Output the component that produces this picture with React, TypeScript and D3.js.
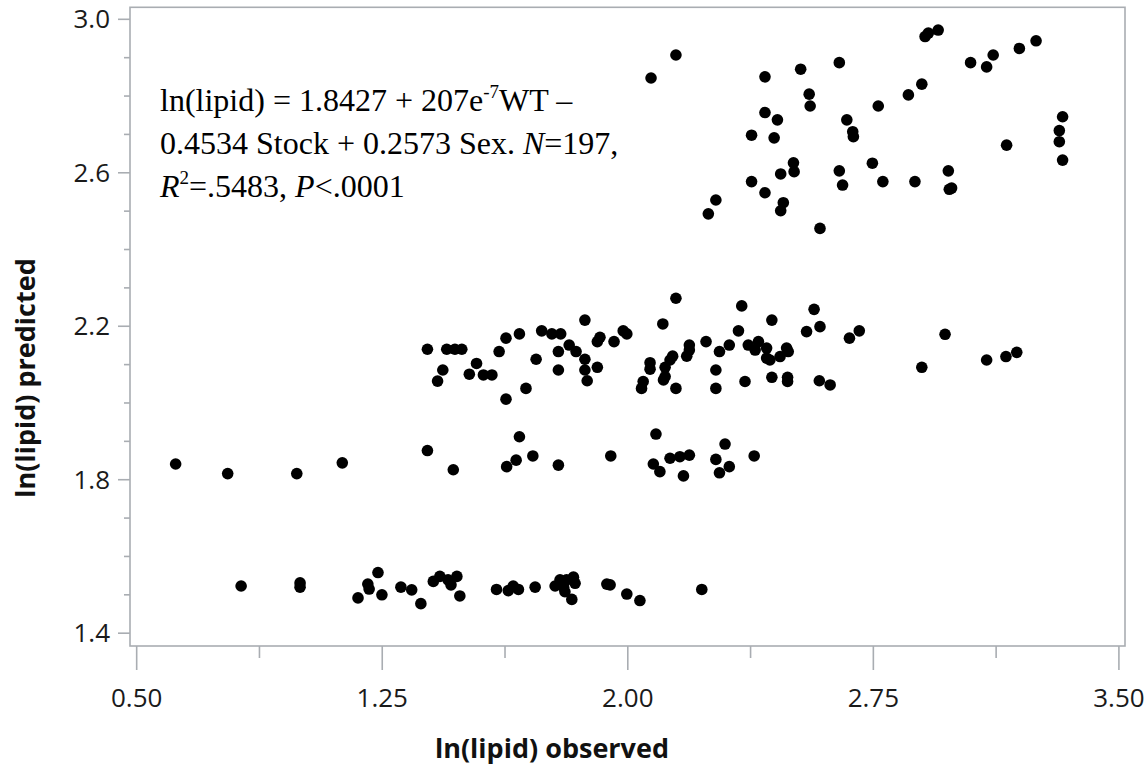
import React from "react";
import * as d3 from "d3";

// ln(lipid) observed (x) and ln(lipid) predicted (y)
const observed: number[] = [
  // lower band (~1.5)
  0.819, 0.999, 0.999, 1.176, 1.206, 1.210, 1.237, 1.249, 1.307, 1.340, 1.368, 1.406, 1.426, 1.451, 1.460, 1.478, 1.487,
  1.599, 1.635, 1.650, 1.666, 1.717, 1.778, 1.793, 1.804, 1.813, 1.834, 1.839, 1.808, 1.829, 1.936, 1.946, 1.997, 2.037, 2.226,
  // band ~1.85
  0.619, 0.778, 0.989, 1.128, 1.388, 1.467, 1.630, 1.659, 1.669, 1.710, 1.788, 1.948, 2.078, 2.086, 2.098, 2.129, 2.159,
  2.188, 2.170, 2.269, 2.297, 2.310, 2.280, 2.386,
  // band ~2.1
  1.388, 1.447, 1.472, 1.493, 1.435, 1.419, 1.538, 1.516, 1.559, 1.585,
  1.607, 1.628, 1.669, 1.628, 1.689, 1.720, 1.737, 1.768, 1.795, 1.788,
  1.788, 1.821, 1.842, 1.869, 1.869, 1.869, 1.876, 1.907, 1.915, 1.907,
  1.958, 1.986, 1.997, 2.042, 2.047, 2.068, 2.068, 2.107, 2.114, 2.114,
  2.109, 2.137, 2.129, 2.147, 2.147, 2.180, 2.188, 2.188, 2.239, 2.269,
  2.269, 2.280, 2.310, 2.338, 2.348, 2.358, 2.368, 2.389, 2.399, 2.424,
  2.424, 2.434, 2.440, 2.440, 2.465, 2.485, 2.490, 2.488, 2.488, 2.546,
  2.569, 2.587, 2.585, 2.618, 2.677, 2.707, 2.969, 2.898, 3.096, 3.155, 3.188,
  // upper band (~2.7)
  2.071, 2.147, 2.419, 2.528, 2.646, 2.554, 2.557, 2.419, 2.457, 2.378,
  2.447, 2.669, 2.687, 2.689, 2.765, 2.857, 2.898, 2.908, 2.918, 2.948,
  3.047, 3.096, 3.116, 3.196, 3.247, 3.328, 3.318, 3.318, 3.328, 3.157,
  2.506, 2.508, 2.467, 2.378, 2.419, 2.475, 2.467, 2.646, 2.656, 2.747,
  2.779, 2.877, 2.979, 2.982, 2.989, 2.269, 2.246, 2.587,
];

const predicted: number[] = [
  1.523, 1.531, 1.520, 1.492, 1.528, 1.515, 1.558, 1.500, 1.520, 1.513, 1.477, 1.535, 1.548, 1.539, 1.526, 1.548, 1.497,
  1.514, 1.511, 1.523, 1.514, 1.520, 1.523, 1.539, 1.520, 1.539, 1.546, 1.530, 1.508, 1.488, 1.528, 1.526, 1.502, 1.485, 1.514,
  1.841, 1.816, 1.816, 1.844, 1.876, 1.826, 1.834, 1.851, 1.912, 1.862, 1.838, 1.862, 1.841, 1.919, 1.821, 1.856, 1.860,
  1.864, 1.810, 1.853, 1.893, 1.834, 1.818, 1.862,
  2.140, 2.140, 2.140, 2.140, 2.086, 2.057, 2.103, 2.075, 2.073, 2.073,
  2.134, 2.169, 2.180, 2.010, 2.038, 2.114, 2.188, 2.180, 2.180, 2.134,
  2.086, 2.151, 2.134, 2.216, 2.114, 2.086, 2.058, 2.093, 2.171, 2.160,
  2.160, 2.188, 2.180, 2.038, 2.056, 2.105, 2.088, 2.206, 2.093, 2.069,
  2.060, 2.122, 2.112, 2.273, 2.038, 2.122, 2.151, 2.138, 2.160, 2.086,
  2.038, 2.134, 2.151, 2.188, 2.253, 2.056, 2.151, 2.138, 2.160, 2.143,
  2.117, 2.112, 2.216, 2.067, 2.121, 2.143, 2.134, 2.067, 2.056, 2.186,
  2.244, 2.199, 2.058, 2.047, 2.169, 2.188, 2.179, 2.093, 2.112, 2.121, 2.132,
  2.847, 2.907, 2.850, 2.870, 2.887, 2.805, 2.774, 2.757, 2.738, 2.698,
  2.691, 2.738, 2.707, 2.694, 2.774, 2.803, 2.831, 2.955, 2.964, 2.972,
  2.887, 2.876, 2.907, 2.924, 2.944, 2.746, 2.710, 2.681, 2.633, 2.672,
  2.626, 2.603, 2.597, 2.577, 2.548, 2.522, 2.501, 2.605, 2.568, 2.625,
  2.577, 2.577, 2.605, 2.557, 2.560, 2.529, 2.493, 2.455,
];

const xMajorTicks: number[] = [0.5, 1.25, 2.0, 2.75, 3.5];
const xTickLabels: string[] = ["0.50", "1.25", "2.00", "2.75", "3.50"];
const xMinorTicks: number[] = [0.875, 1.625, 2.375, 3.125];
const yMajorTicks: number[] = [1.4, 1.8, 2.2, 2.6, 3.0];
const yTickLabels: string[] = ["1.4", "1.8", "2.2", "2.6", "3.0"];
const yMinorTicks: number[] = [1.5, 1.6, 1.7, 1.9, 2.0, 2.1, 2.3, 2.4, 2.5, 2.7, 2.8, 2.9];

const xTitle = "ln(lipid) observed";
const yTitle = "ln(lipid) predicted";

const W = 1146;
const H = 765;
const L = 130, R = 1125, T = 7.3, B = 646;
const AXIS = "#a9adb2";
const SANS = "'Open Sans', 'Noto Sans', sans-serif";
const SERIF = "'Liberation Serif', 'Times New Roman', serif";

export default function App() {
  const x = d3.scaleLinear().domain([0.4796, 3.5186]).range([L, R]);
  const y = d3.scaleLinear().domain([1.3666, 3.0313]).range([B, T]);
  const pts = observed.map((o, i) => [o, predicted[i]] as [number, number]);

  return (
    <svg
      width={W}
      height={H}
      style={{ position: "fixed", left: 0, top: 0, background: "#fff" }}
    >
      <rect x={0} y={0} width={W} height={H} fill="#fff" />
      {/* frame */}
      <rect x={L} y={T} width={R - L} height={B - T} fill="none" stroke={AXIS} strokeWidth={1.6} />

      {/* y ticks */}
      {yMajorTicks.map((t, i) => (
        <g key={"ym" + i}>
          <line x1={L - 12} x2={L} y1={y(t)} y2={y(t)} stroke={AXIS} strokeWidth={1.6} />
          <text
            x={110}
            y={y(t)}
            dy="0.35em"
            textAnchor="end"
            fontFamily={SANS}
            fontSize={26}
            fill="#1a1a1a"
          >
            {yTickLabels[i]}
          </text>
        </g>
      ))}
      {yMinorTicks.map((t, i) => (
        <line key={"yn" + i} x1={L - 6} x2={L} y1={y(t)} y2={y(t)} stroke={AXIS} strokeWidth={1.6} />
      ))}

      {/* x ticks */}
      {xMajorTicks.map((t, i) => (
        <g key={"xm" + i}>
          <line x1={x(t)} x2={x(t)} y1={B} y2={B + 24} stroke={AXIS} strokeWidth={1.6} />
          <text
            x={x(t)}
            y={707}
            textAnchor="middle"
            fontFamily={SANS}
            fontSize={26}
            fill="#1a1a1a"
          >
            {xTickLabels[i]}
          </text>
        </g>
      ))}
      {xMinorTicks.map((t, i) => (
        <line key={"xn" + i} x1={x(t)} x2={x(t)} y1={B} y2={B + 12} stroke={AXIS} strokeWidth={1.6} />
      ))}

      {/* axis titles */}
      <text x={552} y={758} textAnchor="middle" fontFamily={SANS} fontWeight={700} fontSize={27} fill="#111">
        {xTitle}
      </text>
      <text
        transform="translate(35,378) rotate(-90)"
        textAnchor="middle"
        fontFamily={SANS}
        fontWeight={700}
        fontSize={27}
        fill="#111"
      >
        {yTitle}
      </text>

      {/* points */}
      {pts.map((p, i) => (
        <circle key={i} cx={x(p[0])} cy={y(p[1])} r={5.8} fill="#000" />
      ))}

      {/* annotation */}
      <g fontFamily={SERIF} fontSize={32} fill="#000">
        <text x={160} y={111}>
          ln(lipid) = 1.8427 + 207e
          <tspan fontSize={19} dy={-13}>-7</tspan>
          <tspan dy={13}>WT –</tspan>
        </text>
        <text x={160} y={154}>
          0.4534 Stock + 0.2573 Sex. <tspan fontStyle="italic">N</tspan>=197,
        </text>
        <text x={160} y={197}>
          <tspan fontStyle="italic">R</tspan>
          <tspan fontSize={19} dy={-13}>2</tspan>
          <tspan dy={13}>=.5483, </tspan>
          <tspan fontStyle="italic">P</tspan>&lt;.0001
        </text>
      </g>
    </svg>
  );
}
